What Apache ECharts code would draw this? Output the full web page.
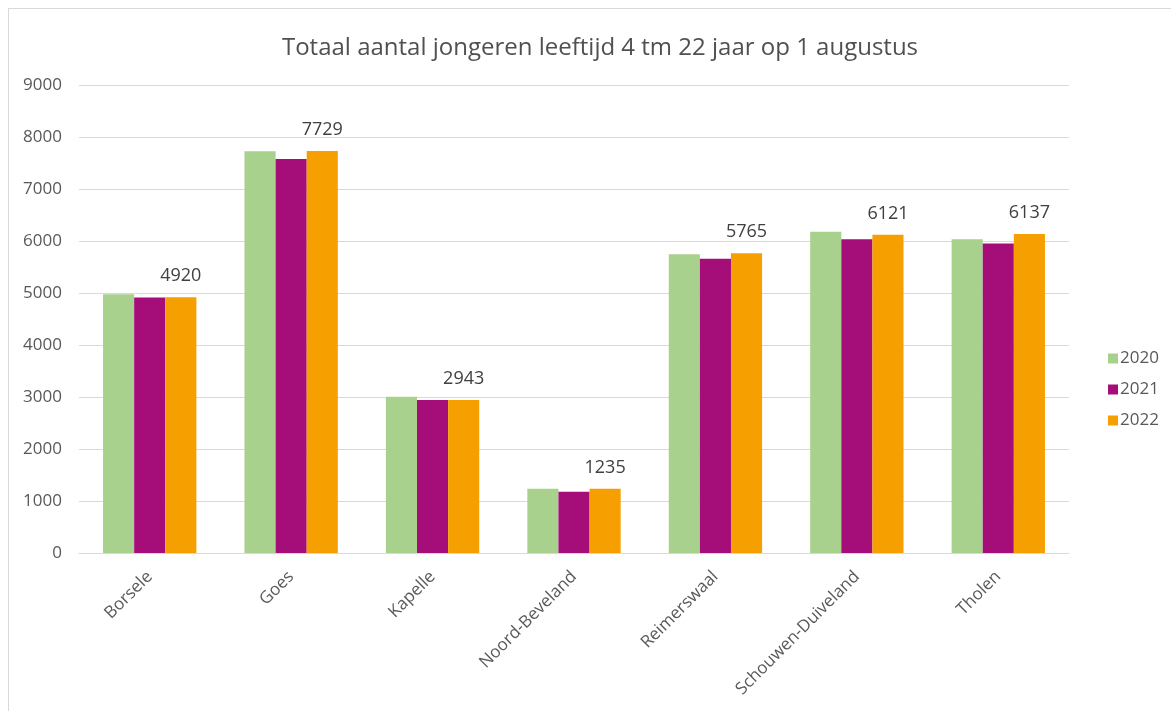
<!DOCTYPE html>
<html>
<head>
<meta charset="utf-8">
<script src="https://cdn.jsdelivr.net/npm/echarts@6/dist/echarts.min.js"></script>
<style>
  html, body { margin: 0; padding: 0; background: #fff; }
  #frame { position: absolute; left: 8px; top: 8px; width: 1200px; height: 760px; border: 1px solid #d9d9d9; }
  #chart { position: absolute; left: 0; top: 0; width: 1171px; height: 711px; }
</style>
</head>
<body>
<div id="frame"></div>
<div id="chart"></div>
<script>
// gemeenten
const categories = ['Borsele', 'Goes', 'Kapelle', 'Noord-Beveland', 'Reimerswaal', 'Schouwen-Duiveland', 'Tholen'];
// aantal jongeren per jaar
const values2020 = [4975, 7725, 3005, 1235, 5745, 6180, 6035];
const values2021 = [4915, 7578, 2940, 1180, 5660, 6035, 5950];
const values2022 = [4920, 7729, 2943, 1235, 5765, 6121, 6137];
const years = ['2020', '2021', '2022'];
const colors = ['#a9d18e', '#a50e78', '#f5a000'];

const font = '"Open Sans", "Noto Sans", sans-serif';
const chart = echarts.init(document.getElementById('chart'));

function bar(name, data, color, withLabel) {
    return {
        name: name,
        type: 'bar',
        data: data,
        barGap: '0%',
        barCategoryGap: '34%',
        itemStyle: { color: color },
        animation: false,
        label: {
            show: withLabel,
            position: 'top',
            distance: 12,
            color: '#404040',
            fontSize: 18,
            fontFamily: font
        }
    };
}

chart.setOption({
    title: {
        text: 'Totaal aantal jongeren leeftijd 4 tm 22 jaar op 1 augustus',
        left: 595,
        top: 31,
        textAlign: 'center',
        textStyle: { color: '#505050', fontSize: 24, fontWeight: 'normal', fontFamily: font }
    },
    legend: {
        orient: 'vertical',
        left: 1103,
        top: 345,
        itemWidth: 10,
        itemHeight: 10,
        itemGap: 14,
        icon: 'rect',
        data: years,
        textStyle: { color: '#595959', fontSize: 17, fontFamily: font, padding: [0, 0, 0, -3] }
    },
    grid: { left: 79, right: 102, top: 85, bottom: 158, containLabel: false },
    xAxis: {
        type: 'category',
        data: categories,
        axisLine: { lineStyle: { color: '#d9d9d9', width: 1 } },
        axisTick: { show: false },
        axisLabel: {
            rotate: 45,
            interval: 0,
            margin: 21,
            color: '#595959',
            fontSize: 17,
            fontFamily: font
        }
    },
    yAxis: {
        type: 'value',
        min: 0,
        max: 9000,
        interval: 1000,
        axisLine: { show: false },
        axisTick: { show: false },
        splitLine: { lineStyle: { color: '#d9d9d9', width: 1 } },
        axisLabel: {
            color: '#595959',
            fontSize: 17,
            fontFamily: font,
            margin: 17,
            formatter: function (v) { return String(v); }
        }
    },
    series: [
        bar(years[0], values2020, colors[0], false),
        bar(years[1], values2021, colors[1], false),
        bar(years[2], values2022, colors[2], true)
    ]
});
</script>
</body>
</html>
